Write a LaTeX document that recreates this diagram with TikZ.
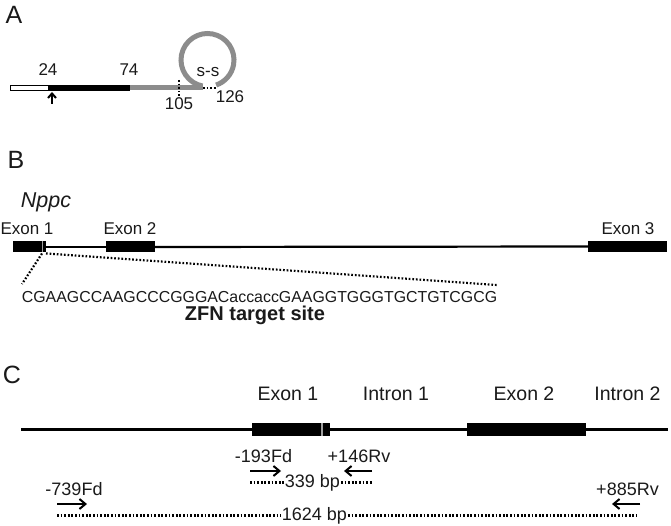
\documentclass[tikz,border=0pt]{standalone}
\usepackage{fontspec}
\setmainfont{Liberation Sans}
\usetikzlibrary{arrows.meta}
\newcommand\myfs[1]{\fontsize{#1}{#1}\selectfont}
\definecolor{bargray}{HTML}{8C8C8C}
\definecolor{stripegray}{HTML}{A0A0A0}
\definecolor{txt}{HTML}{1A1A1A}
\begin{document}
\begin{tikzpicture}[x=1pt,y=-1pt,
  lbl/.style={inner sep=0pt, outer sep=1pt, anchor=base, text=txt, font=\myfs{17}},
  clbl/.style={lbl, font=\myfs{19.5}},
  plbl/.style={lbl, font=\myfs{18}},
  panel/.style={inner sep=0pt, anchor=base, text=txt, font=\myfs{25}},
  exonbox/.style={fill=black, inner sep=0pt, draw=none},
  geneline/.style={line width=2.2pt, black},
  dotln/.style={line width=2.2pt, dash pattern=on 1.7pt off 1.9pt},
  primer/.style={line width=2pt, -{Straight Barb[length=6pt,width=10pt]}}
]
\useasboundingbox (0,0) rectangle (671,526);
\fill[white] (0,0) rectangle (671,526);

% ---------------- Panel A ----------------
\node[panel] (lA) at (14,24) {A};
\draw[fill=white, draw=black, line width=0.9pt] (10,85.3) rectangle (48,90.7);
\fill[black] (48,85) rectangle (130,91);
\fill[bargray] (130,85.5) rectangle (203,90.5);
\coordinate (cc) at (207.5,60);
\draw[bargray, line width=5pt] (cc) ++(101:26.5) arc[start angle=101, end angle=431, radius=26.5];
\coordinate (d0) at (203,88);
\coordinate (d1) at (217,88);
\draw[dotln] (d0) -- (d1);
\coordinate (v0) at (179,80);
\coordinate (v1) at (179,98);
\draw[dotln] (v0) -- (v1);
\coordinate (ar0) at (52,104);
\coordinate (ar1) at (52,92);
\draw[primer, -{Straight Barb[length=4.5pt,width=8pt]}] (ar0) -- (ar1);
\node[lbl] (n24) at (48,76) {24};
\node[lbl] (n74) at (129,76) {74};
\node[lbl] (n105) at (179,110) {105};
\node[lbl] (n126) at (230,103) {126};
\node[lbl] (ss) at (208,77) {s-s};

% ---------------- Panel B ----------------
\node[panel] (lB) at (16,169) {B};
\node[lbl, font=\myfs{21.5}\itshape] (nppc) at (46,208) {Nppc};
\node[lbl] (e1l) at (27,235) {Exon 1};
\node[lbl] (e2l) at (130,235) {Exon 2};
\node[lbl] (e3l) at (628,235) {Exon 3};
\node[exonbox, minimum width=33pt, minimum height=11pt] (ex1) at (29.5,247) {};
\node[exonbox, minimum width=49pt, minimum height=11pt] (ex2) at (130.5,247) {};
\node[exonbox, minimum width=79pt, minimum height=11pt] (ex3) at (627.5,246.5) {};
\draw[geneline] (ex1.east) -- (ex2.west);
\draw[geneline] (ex2.east) -- (ex3.west);
\draw[stripegray, line width=1.3pt] (42.5,241.5) -- (42.5,252.5);
\node[lbl, font=\myfs{15.9}] (seq) at (259.5,302) {CGAAGCCAAGCCCGGGACaccaccGAAGGTGGGTGCTGTCGCG};
\node[lbl, font=\myfs{20}\bfseries] (zfn) at (255,320) {ZFN target site};
\coordinate (z0) at (42,253.5);
\coordinate (z1) at (46,253.5);
\coordinate (zl) at (22,284);
\coordinate (zr) at (497,285);
\draw[dotln] (z0) -- (zl);
\draw[dotln] (z1) -- (zr);

% ---------------- Panel C ----------------
\node[panel] (lC) at (12,383) {C};
\node[clbl] (ce1) at (288,400) {Exon 1};
\node[clbl] (ci1) at (396,400) {Intron 1};
\node[clbl] (ce2) at (524,400) {Exon 2};
\node[clbl] (ci2) at (627.5,400) {Intron 2};
\coordinate (gs) at (21,429.5);
\coordinate (ge) at (668,429.5);
\node[exonbox, minimum width=78pt, minimum height=13pt] (cx1) at (291,429.5) {};
\node[exonbox, minimum width=119pt, minimum height=13pt] (cx2) at (526.5,429.5) {};
\draw[geneline] (gs) -- (cx1.west);
\draw[geneline] (cx1.east) -- (cx2.west);
\draw[geneline] (cx2.east) -- (ge);
\draw[stripegray, line width=1.5pt] (322,423) -- (322,436);

\node[plbl] (p193) at (263.5,462) {-193Fd};
\node[plbl] (p146) at (359,462) {+146Rv};
\node[plbl] (p739) at (74,495) {-739Fd};
\node[plbl] (p885) at (627.5,495) {+885Rv};
\coordinate (a1s) at (250,471); \coordinate (a1e) at (281,471);
\coordinate (a2s) at (372,471); \coordinate (a2e) at (344,471);
\coordinate (a3s) at (57,504);  \coordinate (a3e) at (87,504);
\coordinate (a4s) at (640,504); \coordinate (a4e) at (612,504);
\draw[primer] (a1s) -- (a1e);
\draw[primer] (a2s) -- (a2e);
\draw[primer] (a3s) -- (a3e);
\draw[primer] (a4s) -- (a4e);

\node[plbl] (b339) at (312.5,487) {339 bp};
\node[plbl] (b1624) at (314.5,520) {1624 bp};
\coordinate (s1) at (250,482.5); \coordinate (s2) at (372,482.5);
\coordinate (t1) at (57,515.5);  \coordinate (t2) at (637,515.5);
\draw[dotln] (s1) -- (b339.west |- s1);
\draw[dotln] (b339.east |- s2) -- (s2);
\draw[dotln] (t1) -- (b1624.west |- t1);
\draw[dotln] (b1624.east |- t2) -- (t2);
\end{tikzpicture}
\end{document}
